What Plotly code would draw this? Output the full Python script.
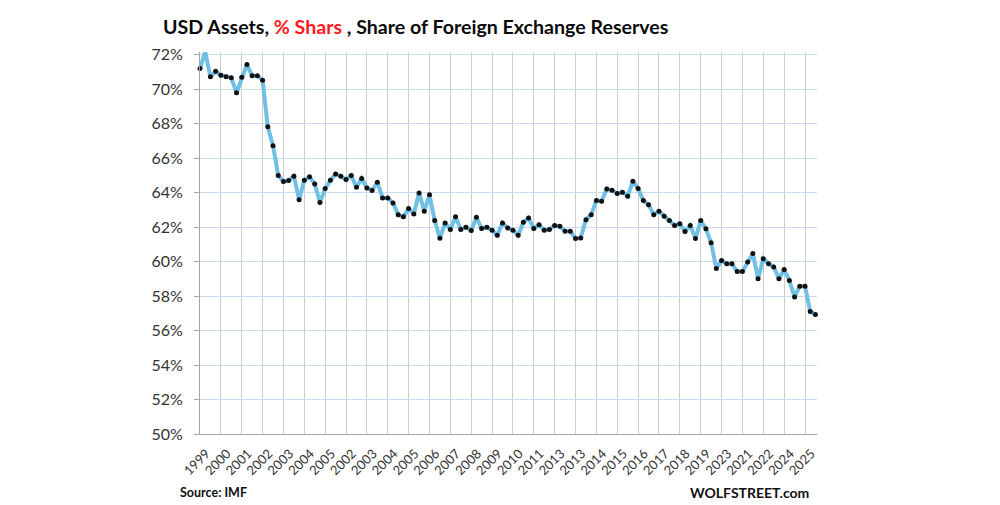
import plotly.graph_objects as go

# Quarterly USD share of foreign exchange reserves (%)
usd_share = [
    71.19, 72.16, 70.71, 71.03, 70.80, 70.71, 70.65, 69.78, 70.69, 71.42,
    70.78, 70.78, 70.51, 67.81, 66.72, 64.99, 64.64, 64.70, 64.95, 63.59,
    64.71, 64.91, 64.50, 63.42, 64.23, 64.71, 65.08, 64.95, 64.75, 64.99,
    64.31, 64.81, 64.27, 64.12, 64.60, 63.69, 63.69, 63.40, 62.72, 62.59,
    63.07, 62.76, 63.98, 62.92, 63.87, 62.38, 61.35, 62.24, 61.86, 62.59,
    61.86, 61.99, 61.80, 62.57, 61.91, 61.99, 61.82, 61.52, 62.24, 61.95,
    61.82, 61.52, 62.28, 62.53, 61.91, 62.14, 61.82, 61.86, 62.09, 62.05,
    61.76, 61.76, 61.33, 61.37, 62.43, 62.72, 63.54, 63.50, 64.21, 64.13,
    63.94, 64.02, 63.79, 64.66, 64.23, 63.54, 63.30, 62.72, 62.92, 62.63,
    62.38, 62.09, 62.19, 61.74, 62.09, 61.33, 62.38, 61.90, 61.09, 59.59,
    60.06, 59.87, 59.87, 59.42, 59.42, 59.98, 60.46, 59.00, 60.16, 59.87,
    59.69, 59.00, 59.54, 58.90, 57.95, 58.57, 58.57, 57.10, 56.93,
]
quarter_index = list(range(len(usd_share)))

# Category labels as printed on the original chart (4 quarters per label)
year_labels = [
    "1999", "2000", "2001", "2002", "2003", "2004", "2005", "2002", "2003", "2004",
    "2005", "2006", "2007", "2008", "2009", "2010", "2011", "2013", "2013", "2014",
    "2015", "2016", "2017", "2018", "2019", "2023", "2021", "2022", "2024", "2025",
]
label_pos = [4 * k + 1.2 for k in range(len(year_labels))]

y_ticks = list(range(50, 73, 2))
y_ticktext = [f"{v}%" for v in y_ticks]

fig = go.Figure()
fig.add_trace(go.Scatter(
    x=quarter_index, y=usd_share, mode="lines+markers",
    line=dict(color="#70bfe5", width=4),
    marker=dict(color="#111111", size=5),
    cliponaxis=False, showlegend=False, hoverinfo="skip",
))

fig.update_layout(
    width=1000, height=505,
    margin=dict(l=200, r=183, t=52, b=71),
    paper_bgcolor="white", plot_bgcolor="white",
    font=dict(family="Lato, 'Open Sans', sans-serif", color="#404040"),
    title=dict(
        text="<b>USD Assets, <span style='color:#ff1a1a'>% Shars</span> , Share of Foreign Exchange Reserves</b>",
        xref="container", yref="container", x=0.163, y=0.947,
        xanchor="left", yanchor="middle",
        font=dict(size=19.6, color="#0a0a0a", family="Lato, 'Open Sans', sans-serif"),
    ),
    xaxis=dict(
        range=[0, 118.3], tickmode="array", tickvals=label_pos, ticktext=year_labels,
        tickangle=-45, tickfont=dict(size=13, color="#333333"),
        ticklabelstandoff=6,
        showgrid=False, zeroline=False, ticks="", showline=True,
        linecolor="#a6a6a6", linewidth=1,
        minor=dict(tick0=0, dtick=4, showgrid=True, gridcolor="#cccccc", gridwidth=1),
    ),
    yaxis=dict(
        range=[50, 72.15], tickmode="array", tickvals=y_ticks, ticktext=y_ticktext,
        tickfont=dict(size=16, color="#333333"),
        ticklabelstandoff=8,
        showgrid=True, gridcolor="#c9dbee", gridwidth=1, zeroline=False,
        showline=True, linecolor="#a6a6a6", linewidth=1,
        ticks="outside", ticklen=5, tickcolor="#a6a6a6",
    ),
    annotations=[
        dict(text="<b>Source: IMF</b>", xref="paper", yref="paper",
             x=-0.036, y=-0.152, xanchor="left", yanchor="middle", showarrow=False,
             font=dict(size=12.5, color="#111111")),
        dict(text="<b>WOLFSTREET.com</b>", xref="paper", yref="paper",
             x=0.990, y=-0.152, xanchor="right", yanchor="middle", showarrow=False,
             font=dict(size=14, color="#111111")),
    ],
)

fig.write_html("out.html")
